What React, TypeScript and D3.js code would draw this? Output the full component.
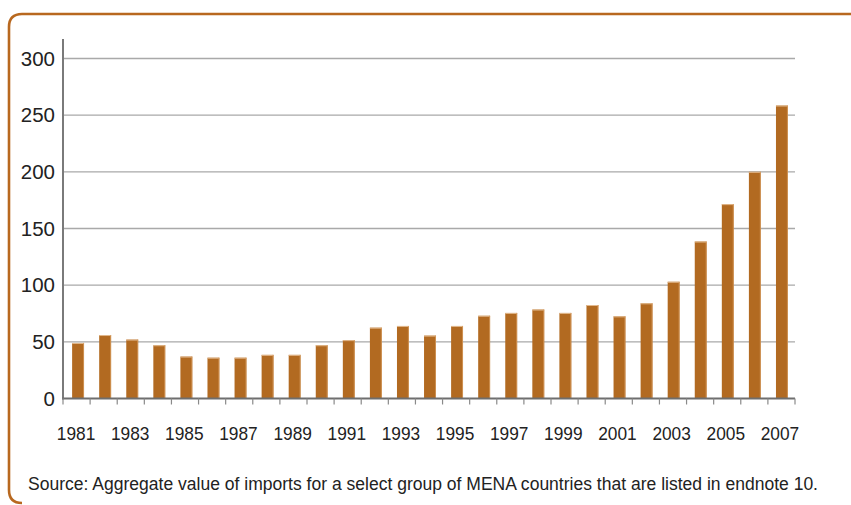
import React from "react";
import * as d3 from "d3";

const years: string[] = [
  "1981","1982","1983","1984","1985","1986","1987","1988","1989","1990",
  "1991","1992","1993","1994","1995","1996","1997","1998","1999","2000",
  "2001","2002","2003","2004","2005","2006","2007",
];
const values: number[] = [
  49, 56, 52, 47, 37, 36, 36, 38.5, 38.5, 47,
  51.5, 62.5, 64, 55.5, 64, 73, 75.5, 78.5, 75.5, 82.5,
  72.5, 84, 103, 138.5, 171.5, 200, 258.5,
];
const yTicks: number[] = [0, 50, 100, 150, 200, 250, 300];
const xLabels: string[] = ["1981","1983","1985","1987","1989","1991","1993","1995","1997","1999","2001","2003","2005","2007"];
const sourceText = "Source: Aggregate value of imports for a select group of MENA countries that are listed in endnote 10.";

const W = 851;
const H = 505;
const left = 63;
const right = 795;
const y0 = 398.5;
const yTop = 58.5;

export default function App() {
  const x = d3.scaleBand<string>().domain(years).range([left, right]).paddingInner(0.56).paddingOuter(0.3);
  const y = d3.scaleLinear().domain([0, 300]).range([y0, yTop]);
  const step = x.step();
  const bw = x.bandwidth();
  const tickXs = d3.range(years.length + 1).map((i) => left + i * ((right - left) / years.length));

  const frameColor = "#b8681f";
  const barColor = "#b26a21";

  return (
    <svg width={W} height={H} style={{ position: "absolute", left: 0, top: 0, display: "block" }}>
      <rect x={0} y={0} width={W} height={H} fill="#ffffff" />
      {/* frame */}
      <path
        d={`M ${W + 5} 14 L 22 14 Q 9 14 9 27 L 9 490 Q 9 503 22 503`}
        fill="none"
        stroke={frameColor}
        strokeWidth={2.6}
      />
      {/* gridlines */}
      {yTicks.filter((t) => t > 0).map((t) => (
        <line key={t} x1={left} x2={right} y1={y(t)} y2={y(t)} stroke="#a9a9a9" strokeWidth={1.4} />
      ))}
      {/* bars */}
      {years.map((yr, i) => {
        const bx = x(yr)! + 1;
        const by = y(values[i]);
        return (
          <g key={yr}>
            <rect x={bx} y={by} width={bw} height={y0 - by} fill={barColor} />
            <line x1={bx} x2={bx + bw} y1={by + 0.5} y2={by + 0.5} stroke="#e2b98e" strokeWidth={1} />
            <line x1={bx + bw - 0.5} x2={bx + bw - 0.5} y1={by} y2={y0} stroke="#d69a5e" strokeWidth={0.8} />
          </g>
        );
      })}
      {/* y axis */}
      <line x1={left} x2={left} y1={39} y2={y0 + 1} stroke="#7a7a7a" strokeWidth={2} />
      {/* x axis */}
      <line x1={left - 1} x2={right} y1={y0} y2={y0} stroke="#6e6e6e" strokeWidth={2} />
      {tickXs.map((tx, i) => (
        <line key={i} x1={tx} x2={tx} y1={y0} y2={y0 + 6} stroke="#8a8a8a" strokeWidth={1.2} />
      ))}
      {/* y labels */}
      {yTicks.map((t) => (
        <text
          key={t}
          x={55}
          y={y(t) + 7}
          textAnchor="end"
          fontFamily="'Liberation Sans', Arial, sans-serif"
          fontSize={20.5}
          fill="#222"
        >
          {t}
        </text>
      ))}
      {/* x labels */}
      {xLabels.map((lb) => (
        <text
          key={lb}
          x={x(lb)! + bw / 2 - 1}
          y={440}
          textAnchor="middle"
          fontFamily="'Liberation Sans', Arial, sans-serif"
          fontSize={19}
          textLength={38.5}
          lengthAdjust="spacingAndGlyphs"
          fill="#222"
        >
          {lb}
        </text>
      ))}
      {/* source */}
      <text
        x={28}
        y={489.5}
        fontFamily="'Liberation Sans', Arial, sans-serif"
        fontSize={17.5}
        textLength={790}
        lengthAdjust="spacingAndGlyphs"
        fill="#222"
      >
        {sourceText}
      </text>
    </svg>
  );
}
